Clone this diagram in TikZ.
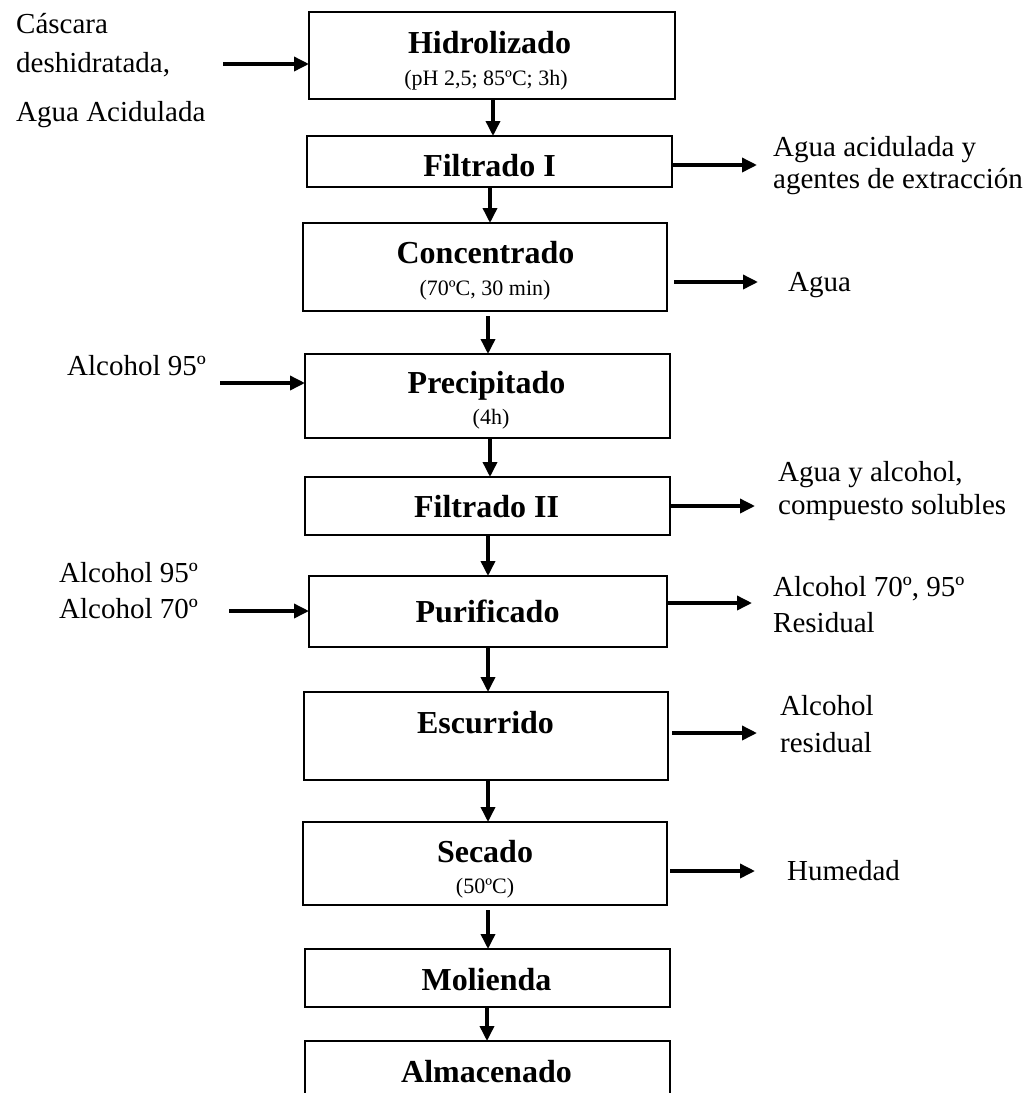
\documentclass[tikz,border=0pt]{standalone}
\usepackage{fontspec}
\setmainfont{Liberation Serif}
\usetikzlibrary{arrows.meta}
\begin{document}
\begin{tikzpicture}[x=1pt,y=-1pt,
  procbox/.style={draw, line width=1.8pt, inner sep=0pt, outer sep=0pt},
  ttl/.style={font=\fontsize{32}{38}\selectfont\bfseries, inner sep=0pt, anchor=base},
  sub/.style={font=\fontsize{22}{26}\selectfont, inner sep=0pt, anchor=base},
  lbl/.style={font=\fontsize{29}{33}\selectfont, inner sep=0pt, anchor=base west},
  flow/.style={line width=3.5pt, -{Triangle[length=15pt,width=14pt]}}]
\useasboundingbox[fill=white] (0,0) rectangle (1032,1093);

% process boxes
\node[procbox, minimum width=366pt, minimum height=87pt] (hid) at (492,55.5) {};
\node[procbox, minimum width=365pt, minimum height=51pt] (fi1) at (489.5,161.5) {};
\node[procbox, minimum width=364pt, minimum height=88pt] (con) at (485,267) {};
\node[procbox, minimum width=365pt, minimum height=84pt] (pre) at (487.5,396) {};
\node[procbox, minimum width=365pt, minimum height=58pt] (fi2) at (487.5,506) {};
\node[procbox, minimum width=358pt, minimum height=71pt] (pur) at (488,611.5) {};
\node[procbox, minimum width=364pt, minimum height=88pt] (esc) at (486,736) {};
\node[procbox, minimum width=364pt, minimum height=83pt] (sec) at (485,863.5) {};
\node[procbox, minimum width=365pt, minimum height=58pt] (mol) at (487.5,978) {};
\node[procbox, minimum width=365pt, minimum height=60pt] (alm) at (487.5,1071) {};

% box texts
\node[ttl] (hid-t) at (489.5,53) {Hidrolizado};
\node[sub] (hid-s) at (486,85) {(pH 2,5; 85ºC; 3h)};
\node[ttl] (fi1-t) at (489.5,176) {Filtrado I};
\node[ttl] (con-t) at (485.5,263) {Concentrado};
\node[sub] (con-s) at (485,295) {(70ºC, 30 min)};
\node[ttl] (pre-t) at (486.5,393) {Precipitado};
\node[sub] (pre-s) at (491,424) {(4h)};
\node[ttl] (fi2-t) at (486.5,517) {Filtrado II};
\node[ttl] (pur-t) at (487.5,622) {Purificado};
\node[ttl] (esc-t) at (485.5,733) {Escurrido};
\node[ttl] (sec-t) at (485,862) {Secado};
\node[sub] (sec-s) at (485,893) {(50ºC)};
\node[ttl] (mol-t) at (486.5,990) {Molienda};
\node[ttl] (alm-t) at (486.5,1082) {Almacenado};

% vertical flow
\draw[flow] (493,0 |- hid.south) -- (493,0 |- fi1.north);
\draw[flow] (490,0 |- fi1.south) -- (490,0 |- con.north);
\draw[flow] ([yshift=-5pt]488,0 |- con.south) -- (488,0 |- pre.north);
\draw[flow] (490,0 |- pre.south) -- (490,0 |- fi2.north);
\draw[flow] (488,0 |- fi2.south) -- (488,0 |- pur.north);
\draw[flow] (488,0 |- pur.south) -- (488,0 |- esc.north);
\draw[flow] (488,0 |- esc.south) -- (488,0 |- sec.north);
\draw[flow] ([yshift=-5pt]488,0 |- sec.south) -- (488,0 |- mol.north);
\draw[flow] (487,0 |- mol.south) -- (487,0 |- alm.north);

% inputs (left)
\node[lbl] (in1a) at (16,33) {Cáscara};
\node[lbl] (in1b) at (16,72) {deshidratada,};
\node[lbl] (in1c) at (16,121) {Agua Acidulada};
\coordinate (in1) at (223,64);
\draw[flow] (in1) -- (in1 -| hid.west);

\node[lbl] (in2) at (67,375) {Alcohol 95º};
\coordinate (in2s) at (220,383);
\draw[flow] (in2s) -- (in2s -| pre.west);

\node[lbl] (in3a) at (59,582) {Alcohol 95º};
\node[lbl] (in3b) at (59,618) {Alcohol 70º};
\coordinate (in3s) at (229,611);
\draw[flow] (in3s) -- (in3s -| pur.west);

% outputs (right)
\coordinate (out1) at (757,165);
\draw[flow] (out1 -| fi1.east) -- (out1);
\node[lbl] (out1a) at (773,156) {Agua acidulada y};
\node[lbl] (out1b) at (773,188) {agentes de extracción};

\coordinate (out2) at (758,282);
\draw[flow] ([xshift=7pt]out2 -| con.east) -- (out2);
\node[lbl] (out2a) at (788,291) {Agua};

\coordinate (out3) at (755,506);
\draw[flow] (out3 -| fi2.east) -- (out3);
\node[lbl] (out3a) at (778,481) {Agua y alcohol,};
\node[lbl] (out3b) at (778,514) {compuesto solubles};

\coordinate (out4) at (752,603);
\draw[flow] (out4 -| pur.east) -- (out4);
\node[lbl] (out4a) at (773,596) {Alcohol 70º, 95º};
\node[lbl] (out4b) at (773,632) {Residual};

\coordinate (out5) at (757,733);
\draw[flow] ([xshift=4pt]out5 -| esc.east) -- (out5);
\node[lbl] (out5a) at (780,715) {Alcohol};
\node[lbl] (out5b) at (780,752) {residual};

\coordinate (out6) at (755,871);
\draw[flow] ([xshift=3pt]out6 -| sec.east) -- (out6);
\node[lbl] (out6a) at (787,880) {Humedad};
\end{tikzpicture}
\end{document}
